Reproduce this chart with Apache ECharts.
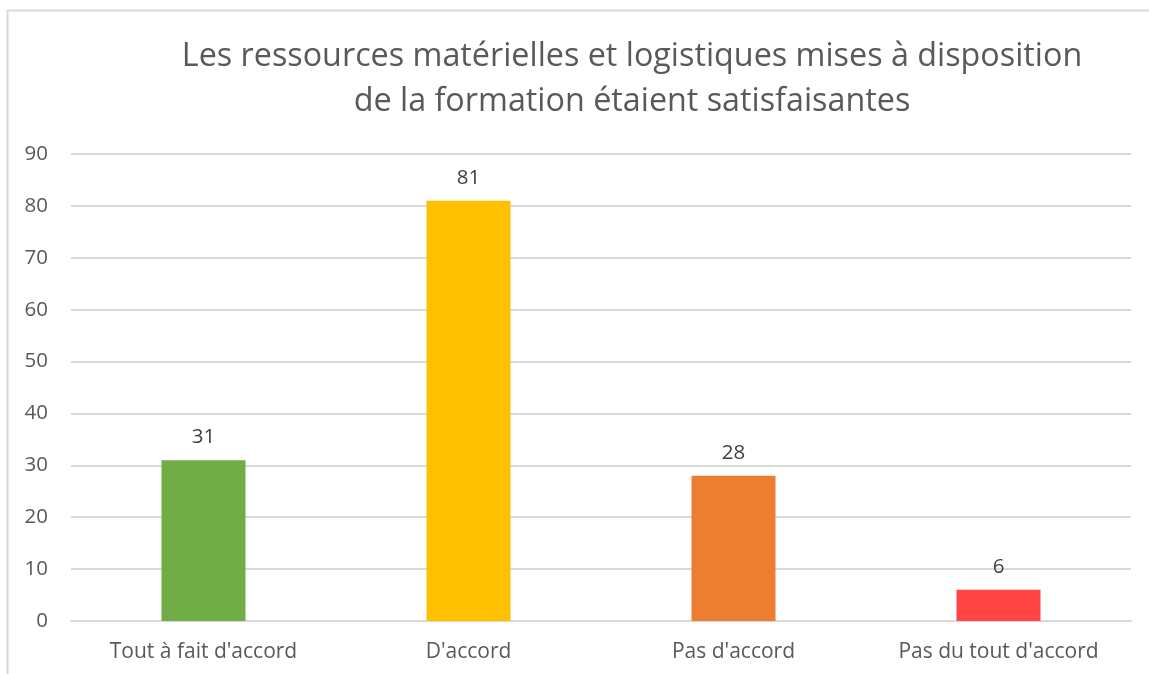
<!DOCTYPE html>
<html><head><meta charset="utf-8">
<script src="https://cdn.jsdelivr.net/npm/echarts@6/dist/echarts.min.js"></script>
<style>html,body{margin:0;padding:0;background:#fff}#c{width:1149px;height:674px}</style>
</head><body><div id="c"></div>
<script>
const categories = ["Tout à fait d'accord", "D'accord", "Pas d'accord", "Pas du tout d'accord"];
const values = [31, 81, 28, 6];
const barColors = ["#70ad47", "#ffc000", "#ed7d31", "#ff4545"];
const titleLines = ["Les ressources matérielles et logistiques mises à disposition", "de la formation étaient satisfaisantes"];

const chart = echarts.init(document.getElementById('c'), null, {renderer: 'canvas'});
const font = '"Open Sans", "Noto Sans", sans-serif';
chart.setOption({
  animation: false,
  backgroundColor: '#fff',
  graphic: [{
    type: 'rect', shape: {x: 7.5, y: 10.5, width: 1200, height: 800},
    style: {fill: 'none', stroke: '#d9d9d9', lineWidth: 2}, silent: true
  }],
  title: {
    text: titleLines.join('\n'),
    left: 627, top: 29, textAlign: 'center',
    textStyle: {fontFamily: font, fontSize: 32.3, fontWeight: 'normal', color: '#595959', lineHeight: 45}
  },
  grid: {left: 71, right: 18, top: 154, bottom: 53, containLabel: false},
  xAxis: {
    type: 'category', data: categories,
    axisLine: {show: true, lineStyle: {color: '#d9d9d9', width: 2}},
    axisTick: {show: false},
    axisLabel: {fontFamily: font, fontSize: 21, color: '#595959', margin: 21}
  },
  yAxis: {
    type: 'value', min: 0, max: 90, interval: 10,
    axisLine: {show: false}, axisTick: {show: false},
    splitLine: {lineStyle: {color: '#d9d9d9', width: 2}},
    axisLabel: {fontFamily: font, fontSize: 20.5, color: '#595959', margin: 23}
  },
  series: [{
    type: 'bar', barWidth: 84,
    data: values.map((v, i) => ({value: v, itemStyle: {color: barColors[i]}})),
    label: {show: true, position: 'top', distance: 12, fontFamily: font, fontSize: 20.5, color: '#404040'}
  }]
});
</script></body></html>
